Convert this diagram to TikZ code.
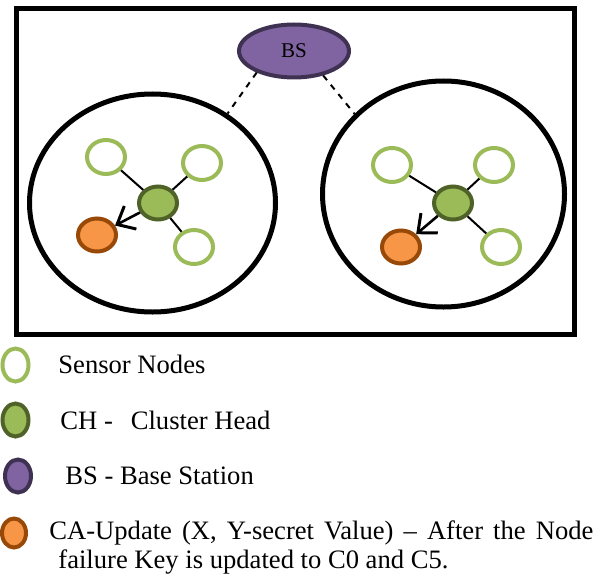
\documentclass[tikz,border=0pt]{standalone}
\usepackage{fontspec}
\setmainfont{Liberation Serif}
\usetikzlibrary{shapes.geometric,arrows.meta}

\definecolor{leaf}{HTML}{9BBB59}
\definecolor{darkleaf}{HTML}{4F6228}
\definecolor{plum}{HTML}{8064A2}
\definecolor{darkplum}{HTML}{3F3151}
\definecolor{amber}{HTML}{F79646}
\definecolor{rust}{HTML}{984807}

\tikzset{
  sensor/.style={ellipse, draw=leaf, line width=2pt, fill=white, minimum width=19pt, minimum height=17pt, inner sep=0pt},
  clusterhead/.style={ellipse, draw=darkleaf, line width=2pt, fill=leaf, minimum width=19pt, minimum height=16.5pt, inner sep=0pt},
  failed/.style={ellipse, draw=rust, line width=2pt, fill=amber, minimum width=19pt, minimum height=16.5pt, inner sep=0pt},
  station/.style={ellipse, draw=darkplum, line width=2pt, fill=plum, inner sep=0pt},
  cluster/.style={ellipse, draw, line width=2.5pt, inner sep=0pt},
  link/.style={line width=1pt},
  update/.style={line width=1.3pt, -{Straight Barb[length=7.5pt, width=13pt, line width=1.5pt]}},
  keyicon/.style={minimum width=13pt, minimum height=16.5pt},
  keytext/.style={anchor=west, inner sep=0pt, font=\fontsize{13.3}{16.5}\selectfont}
}

\begin{document}
\begin{tikzpicture}[x=0.5pt, y=-0.5pt]
\useasboundingbox (0,0) rectangle (597,577);

% frame round the network
\draw [line width=2.5pt] (16.5,8.5) rectangle (574.5,334.5);

% two clusters and the base station
\node (left) [cluster, minimum width=123pt, minimum height=109pt] at (152.5,203) {};
\node (right) [cluster, minimum width=121pt, minimum height=113pt] at (443.5,194) {};
\node (bs) [station, minimum width=55pt, minimum height=26.5pt, font=\fontsize{10.5}{12}\selectfont] at (294,51) {BS};

\draw [dashed, link] (bs.210.7) -- (left.50);
\draw [dashed, link] (bs.320) -- (right.138.8);

% left cluster
\node (ch1) [clusterhead] at (158,203) {};
\node (s11) [sensor] at (106,157) {};
\node (s12) [sensor] at (202,163) {};
\node (s13) [sensor] at (194,247) {};
\node (f1) [failed] at (97,235) {};
\draw [link] (ch1) -- (s11);
\draw [link] (ch1) -- (s12);
\draw [link] (ch1) -- (s13);
\draw [update] (ch1) -- (f1);

% right cluster
\node (ch2) [clusterhead] at (453,203) {};
\node (s21) [sensor] at (392,165) {};
\node (s22) [sensor] at (494,165) {};
\node (s23) [sensor] at (501,247) {};
\node (f2) [failed] at (401,247) {};
\draw [link] (ch2) -- (s21);
\draw [link] (ch2) -- (s22);
\draw [link] (ch2) -- (s23);
\draw [update] (ch2) -- (f2);

% legend
\node (ksensor) [sensor, keyicon] at (15.5,365) {};
\node (khead) [clusterhead, keyicon] at (15.5,420) {};
\node (kstation) [station, keyicon] at (18,476) {};
\node (kfailed) [failed, minimum width=12pt, minimum height=14.5pt] at (14,533) {};

\node (tsensor) [keytext] at (58,364) {Sensor Nodes};
\node (thead) [keytext] at (60,420) {CH -\hspace{9pt}Cluster Head};
\node (tstation) [keytext] at (65,476) {BS - Base Station};
\node (tfailed) [keytext] at (49,533) {\makebox[272pt][s]{CA-Update (X, Y-secret Value) -- After the Node}};
\node (tfailed2) [keytext] at (58,562) {failure Key is updated to C0 and C5.};

\end{tikzpicture}
\end{document}
